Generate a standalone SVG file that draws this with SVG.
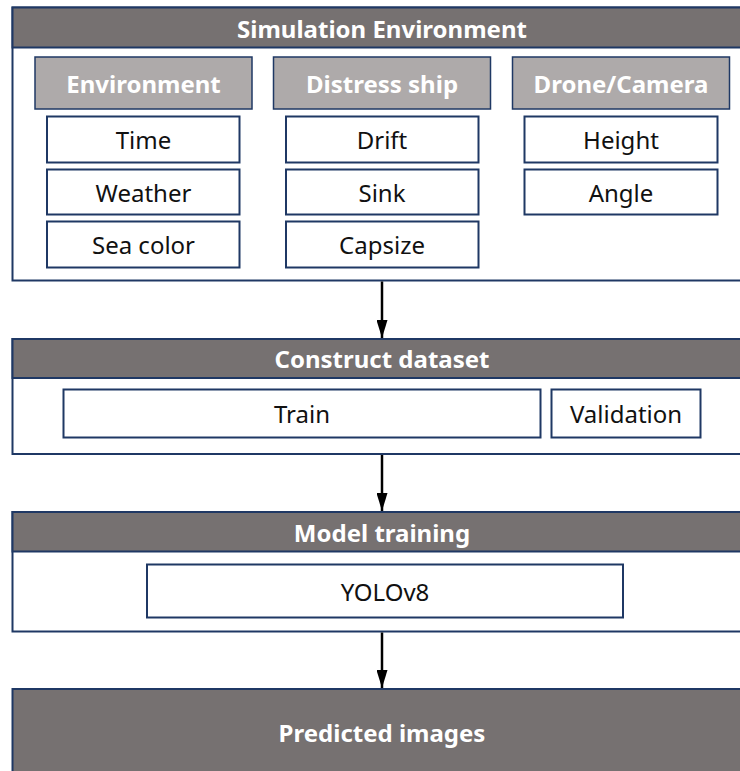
<svg xmlns="http://www.w3.org/2000/svg" width="740" height="771" viewBox="0 0 740 771">
<defs>
<marker id="ah" markerWidth="18" markerHeight="11" refX="18" refY="5.5" orient="auto" markerUnits="userSpaceOnUse" viewBox="0 0 18 11">
<path d="M0,0 L18,5.5 L0,11 Z" fill="#000"/>
</marker>
</defs>
<style>
.frame{fill:#fff;stroke:#1f3864;stroke-width:2}
.hdr{fill:#767171;stroke:#1f3864;stroke-width:2}
.sub{fill:#aeaaaa;stroke:#1f3864;stroke-width:1.5}
.item{fill:#fff;stroke:#1f3864;stroke-width:2}
.ht{font-family:"Noto Sans","Noto Sans CJK KR",sans-serif;font-weight:bold;font-size:24px;fill:#fff;text-anchor:middle;dominant-baseline:central}
.it{font-family:"Noto Sans","Noto Sans CJK KR",sans-serif;font-size:24px;fill:#111;text-anchor:middle;dominant-baseline:central}
.conn{stroke:#000;stroke-width:2.5;fill:none}
</style>
<g id="sim">
<rect class="frame" x="12.5" y="7.5" width="740" height="273"/>
<rect class="hdr" x="12.5" y="7.5" width="740" height="40"/>
<text class="ht" x="382" y="28">Simulation Environment</text>
</g>
<g id="env">
<rect class="sub" x="35" y="57" width="217" height="52"/>
<text class="ht" x="143.5" y="83">Environment</text>
</g>
<g id="ship">
<rect class="sub" x="273.5" y="57" width="217" height="52"/>
<text class="ht" x="382" y="83">Distress ship</text>
</g>
<g id="drone">
<rect class="sub" x="512.5" y="57" width="217" height="52"/>
<text class="ht" x="621" y="83">Drone/Camera</text>
</g>
<g id="time"><rect class="item" x="47" y="116.5" width="192.5" height="46"/><text class="it" x="143.5" y="139.5">Time</text></g>
<g id="weather"><rect class="item" x="47" y="169.5" width="192.5" height="45"/><text class="it" x="143.5" y="192">Weather</text></g>
<g id="seacolor"><rect class="item" x="47" y="221.5" width="192.5" height="46"/><text class="it" x="143.5" y="244.5">Sea color</text></g>
<g id="drift"><rect class="item" x="286" y="116.5" width="192.5" height="46"/><text class="it" x="382" y="139.5">Drift</text></g>
<g id="sink"><rect class="item" x="286" y="169.5" width="192.5" height="45"/><text class="it" x="382" y="192">Sink</text></g>
<g id="capsize"><rect class="item" x="286" y="221.5" width="192.5" height="46"/><text class="it" x="382" y="244.5">Capsize</text></g>
<g id="height"><rect class="item" x="524.5" y="116.5" width="193" height="46"/><text class="it" x="621" y="139.5">Height</text></g>
<g id="angle"><rect class="item" x="524.5" y="169.5" width="193" height="45"/><text class="it" x="621" y="192">Angle</text></g>

<g id="dataset">
<rect class="frame" x="12.5" y="339" width="740" height="115"/>
<rect class="hdr" x="12.5" y="339" width="740" height="39"/>
<text class="ht" x="382" y="358.5">Construct dataset</text>
</g>
<g id="train"><rect class="item" x="63.5" y="389.5" width="477" height="48"/><text class="it" x="302" y="413.5">Train</text></g>
<g id="validation"><rect class="item" x="551.5" y="389.5" width="149" height="48"/><text class="it" x="626" y="413.5">Validation</text></g>

<g id="training">
<rect class="frame" x="12.5" y="512" width="740" height="119.5"/>
<rect class="hdr" x="12.5" y="512" width="740" height="39.5"/>
<text class="ht" x="382" y="532">Model training</text>
</g>
<g id="yolo"><rect class="item" x="147" y="564.5" width="476" height="53"/><text class="it" x="385" y="591">YOLOv8</text></g>

<g id="predicted">
<rect class="hdr" x="12.5" y="689" width="740" height="100"/>
<text class="ht" x="382" y="732">Predicted images</text>
</g>

<g id="connectors">
<line class="conn" x1="382" y1="281.5" x2="382" y2="338" marker-end="url(#ah)"/>
<line class="conn" x1="382" y1="455" x2="382" y2="511" marker-end="url(#ah)"/>
<line class="conn" x1="382" y1="632.5" x2="382" y2="688" marker-end="url(#ah)"/>
</g>
</svg>
